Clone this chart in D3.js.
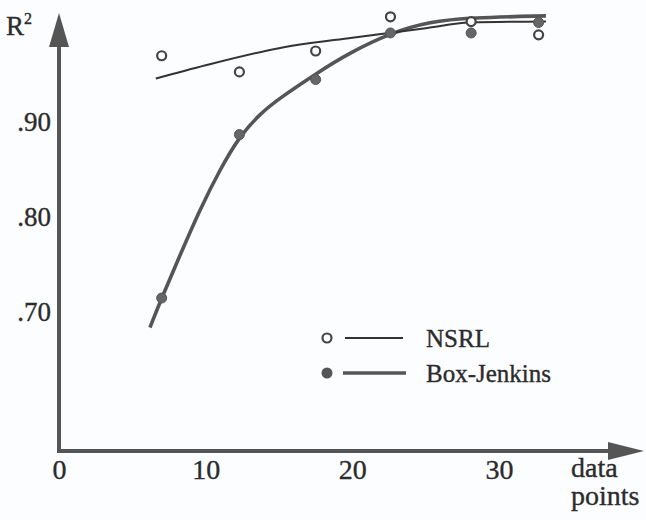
<!DOCTYPE html>
<html>
<head>
<meta charset="utf-8">
<script src="https://cdn.jsdelivr.net/npm/d3@7"></script>
<style>
  html, body { margin: 0; padding: 0; background: #fcfdff; }
  svg { display: block; }
  text { font-family: "Liberation Serif", "DejaVu Serif", serif; fill: #2b2b2b; stroke: #2b2b2b; stroke-width: 0.35px; }
</style>
</head>
<body>
<svg id="chart" width="646" height="520"></svg>
<script>
// ---- data ----
const xTicks = [0, 10, 20, 30];
const yTicks = [0.70, 0.80, 0.90];
const yTickLabels = [".70", ".80", ".90"];

const obsX = [7, 12.3, 17.5, 22.6, 28.1, 32.7];
const nsrlR2 = [0.959, 0.942, 0.964, 1.000, 0.995, 0.981];
const bjR2 = [0.704, 0.876, 0.934, 0.983, 0.983, 0.994];

const nsrlFitX = [6.6, 10, 15, 20, 22.5, 25, 28, 33.2];
const nsrlFitR2 = [0.935, 0.949, 0.967, 0.978, 0.983, 0.988, 0.994, 0.995];

const bjFitX = [6.2, 7.0, 8.25, 9.6, 11.0, 12.3, 13.7, 15.1, 17.6, 19.8, 22.6, 25.3, 28.0, 33.2];
const bjFitR2 = [0.673, 0.704, 0.749, 0.797, 0.840, 0.874, 0.898, 0.915, 0.941, 0.962, 0.983, 0.995, 0.999, 1.001];

const seriesNames = ["NSRL", "Box-Jenkins"];

// ---- layout ----
const svg = d3.select("#chart");
const axisColor = "#555";
const x = d3.scaleLinear().domain([0, 30]).range([59, 499]);
const y = d3.scaleLinear().domain([0.543, 1.004]).range([451, 13]);
const x0 = x(0), yBase = y(0.543), yTop = y(1.004);

// axes
const axG = svg.append("g");
axG.append("line").attr("x1", x0).attr("x2", x0).attr("y1", yBase).attr("y2", yTop + 30)
  .attr("stroke", axisColor).attr("stroke-width", 4);
axG.append("path")
  .attr("d", `M${x0},${yTop} L${x0 - 10},${yTop + 34} L${x0 + 10},${yTop + 34} Z`)
  .attr("fill", axisColor);
axG.append("line").attr("x1", x0 - 2).attr("x2", 612).attr("y1", yBase).attr("y2", yBase)
  .attr("stroke", axisColor).attr("stroke-width", 4);
axG.append("path")
  .attr("d", `M644,${yBase} L608,${yBase - 9} L608,${yBase + 9} Z`)
  .attr("fill", axisColor);

// y tick labels (axis generator, domain line hidden)
const yAxis = d3.axisLeft(y).tickValues(yTicks).tickSize(0).tickPadding(0)
  .tickFormat((d, i) => yTickLabels[i]);
const yg = svg.append("g").attr("transform", `translate(${x0 - 8},10)`).call(yAxis);
yg.select(".domain").remove();
yg.selectAll("text").attr("font-size", 27).attr("font-family", "Liberation Serif")
  .attr("fill", "#2b2b2b").attr("stroke", "#2b2b2b").attr("stroke-width", 0.35);

// x tick labels
const xAxis = d3.axisBottom(x).tickValues(xTicks).tickSize(0).tickPadding(0).tickFormat(d3.format("d"));
const xg = svg.append("g").attr("transform", `translate(0,${yBase + 8})`).call(xAxis);
xg.select(".domain").remove();
xg.selectAll("text").attr("font-size", 28).attr("font-family", "Liberation Serif")
  .attr("fill", "#2b2b2b").attr("stroke", "#2b2b2b").attr("stroke-width", 0.35);

// axis titles
const rt = svg.append("text").attr("x", 6).attr("y", 35).attr("font-size", 27);
rt.append("tspan").text("R");
rt.append("tspan").attr("dy", -11).attr("font-size", 16).text("2");
svg.append("text").attr("x", 571).attr("y", 477).attr("font-size", 28).text("data");
svg.append("text").attr("x", 571).attr("y", 505).attr("font-size", 28).text("points");

// fitted curves
const lineBJ = d3.line().x(d => x(d[0])).y(d => y(d[1])).curve(d3.curveBasis);
const lineN = d3.line().x(d => x(d[0])).y(d => y(d[1])).curve(d3.curveMonotoneX);
svg.append("path").datum(bjFitX.map((v, i) => [v, bjFitR2[i]]))
  .attr("d", lineBJ).attr("fill", "none").attr("stroke", "#555").attr("stroke-width", 3.6);
svg.append("path").datum(nsrlFitX.map((v, i) => [v, nsrlFitR2[i]]))
  .attr("d", lineN).attr("fill", "none").attr("stroke", "#333").attr("stroke-width", 2);

// observed points
svg.append("g").selectAll("circle").data(obsX.map((v, i) => [v, bjR2[i]])).join("circle")
  .attr("cx", d => x(d[0])).attr("cy", d => y(d[1])).attr("r", 5)
  .attr("fill", "#666").attr("stroke", "#555").attr("stroke-width", 1);
svg.append("g").selectAll("circle").data(obsX.map((v, i) => [v, nsrlR2[i]])).join("circle")
  .attr("cx", d => x(d[0])).attr("cy", d => y(d[1])).attr("r", 4.5)
  .attr("fill", "#fff").attr("stroke", "#444").attr("stroke-width", 2.2);

// legend
const lg = svg.append("g");
lg.append("circle").attr("cx", 327).attr("cy", 338).attr("r", 4.5).attr("fill", "#fff").attr("stroke", "#444").attr("stroke-width", 2.2);
lg.append("line").attr("x1", 345).attr("x2", 403).attr("y1", 338).attr("y2", 338).attr("stroke", "#333").attr("stroke-width", 2);
lg.append("text").attr("x", 426).attr("y", 347).attr("font-size", 25).text(seriesNames[0]);
lg.append("circle").attr("cx", 327).attr("cy", 373).attr("r", 5.5).attr("fill", "#555");
lg.append("line").attr("x1", 343).attr("x2", 406).attr("y1", 373).attr("y2", 373).attr("stroke", "#555").attr("stroke-width", 3.6);
lg.append("text").attr("x", 426).attr("y", 382).attr("font-size", 25).text(seriesNames[1]);
</script>
</body>
</html>
